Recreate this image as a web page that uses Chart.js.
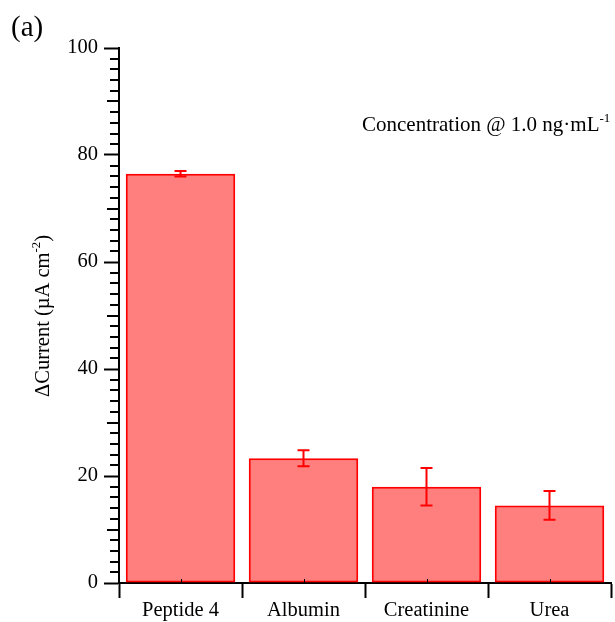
<!DOCTYPE html>
<html>
<head>
<meta charset="utf-8">
<script src="https://cdn.jsdelivr.net/npm/chart.js@4"></script>
<style>
  body { margin: 0; background: #fff; }
  #wrap { width: 615px; height: 622px; position: relative; }
</style>
</head>
<body>
<div id="wrap"><canvas id="grafiek"></canvas></div>
<script>
// data
var categories = ['Peptide 4', 'Albumin', 'Creatinine', 'Urea'];
var current = [76.5, 23.3, 18.0, 14.5];
var errors = [0.5, 1.5, 3.5, 2.7];
var yTicks = [0, 20, 40, 60, 80, 100];

var serif = '"Liberation Serif", "DejaVu Serif", serif';

// tekst met superscript (stukken: [tekst, isSup])
function drawRich(ctx, parts, x, y, size) {
  var cx = x;
  parts.forEach(function(p) {
    var s = p[1] ? size * 0.62 : size;
    ctx.font = s + 'px ' + serif;
    ctx.fillText(p[0], cx, p[1] ? y - size * 0.45 : y);
    cx += ctx.measureText(p[0]).width;
  });
  return cx - x;
}
function richWidth(ctx, parts, size) {
  var w = 0;
  parts.forEach(function(p) {
    ctx.font = (p[1] ? size * 0.62 : size) + 'px ' + serif;
    w += ctx.measureText(p[0]).width;
  });
  return w;
}

var extras = {
  id: 'extras',
  afterDatasetsDraw: function(chart) {
    var ctx = chart.ctx;
    var x = chart.scales.x, y = chart.scales.y;
    ctx.save();
    // foutbalken
    ctx.strokeStyle = '#FF0000';
    ctx.lineWidth = 2;
    current.forEach(function(v, i) {
      var px = x.getPixelForValue(i);
      var top = y.getPixelForValue(v + errors[i]);
      var bot = y.getPixelForValue(v - errors[i]);
      ctx.beginPath();
      ctx.moveTo(px, top); ctx.lineTo(px, bot);
      ctx.moveTo(px - 6, top); ctx.lineTo(px + 6, top);
      ctx.moveTo(px - 6, bot); ctx.lineTo(px + 6, bot);
      ctx.stroke();
    });
    // kleine y-ticks
    ctx.strokeStyle = '#000';
    ctx.lineWidth = 2;
    for (var v = 0; v <= 100; v += 2) {
      if (v % 20 === 0) continue;
      var py = Math.round(y.getPixelForValue(v));
      var len = (v % 10 === 0) ? 12 : 9;
      ctx.beginPath();
      ctx.moveTo(y.right, py); ctx.lineTo(y.right - len, py);
      ctx.stroke();
    }
    // kleine x-ticks in het midden
    ctx.lineWidth = 1;
    categories.forEach(function(c, i) {
      var px = Math.round(x.getPixelForValue(i)) + 0.5;
      ctx.beginPath();
      ctx.moveTo(px, x.top); ctx.lineTo(px, x.top - 4);
      ctx.stroke();
    });
    // teksten
    ctx.fillStyle = '#000';
    ctx.textBaseline = 'alphabetic';
    ctx.textAlign = 'left';
    ctx.font = '29px ' + serif;
    ctx.fillText('(a)', 11, 36);
    drawRich(ctx, [['Concentration @ 1.0 ng\u00B7mL', false], ['-1', true]], 362, 131, 21);
    // y-as titel
    var title = [['\u0394Current (\u00B5A cm', false], ['-2', true], [')', false]];
    var tw = richWidth(ctx, title, 20.5);
    ctx.translate(49, 316);
    ctx.rotate(-Math.PI / 2);
    drawRich(ctx, title, -tw / 2, 0, 20.5);
    ctx.restore();
  }
};

function stroomgrafiek() {
  var ctx = document.getElementById('grafiek');
  new Chart(ctx, {
    type: 'bar',
    data: {
      labels: categories,
      datasets: [{
        data: current,
        backgroundColor: 'rgba(255, 0, 0, 0.5)',
        borderColor: '#FF0000',
        borderWidth: 2,
        borderSkipped: false,
        barPercentage: 0.89,
        categoryPercentage: 1.0
      }]
    },
    options: {
      maintainAspectRatio: false,
      animation: false,
      layout: { padding: { left: 0, top: 48, right: 4, bottom: 0 } },
      scales: {
        x: {
          offset: true,
          grid: { offset: true, drawOnChartArea: false, tickLength: 15, tickColor: '#000', tickWidth: 2 },
          border: { color: '#000', width: 2 },
          ticks: { color: '#000', padding: 0, font: { family: serif, size: 20.5 } },
          afterFit: function(s) { s.height = 39; }
        },
        y: {
          min: 0,
          max: 100,
          afterBuildTicks: function(s) {
            s.ticks = yTicks.map(function(v) { return { value: v }; });
          },
          grid: { drawOnChartArea: false, tickLength: 15, tickColor: '#000', tickWidth: 2 },
          border: { color: '#000', width: 2 },
          ticks: { color: '#000', padding: 6, font: { family: serif, size: 20.5 } },
          afterFit: function(s) { s.width = 119; }
        }
      },
      plugins: {
        legend: { display: false },
        tooltip: { enabled: false }
      }
    },
    plugins: [extras]
  });
}

window.onload = function() {
  stroomgrafiek();
};
</script>
</body>
</html>
